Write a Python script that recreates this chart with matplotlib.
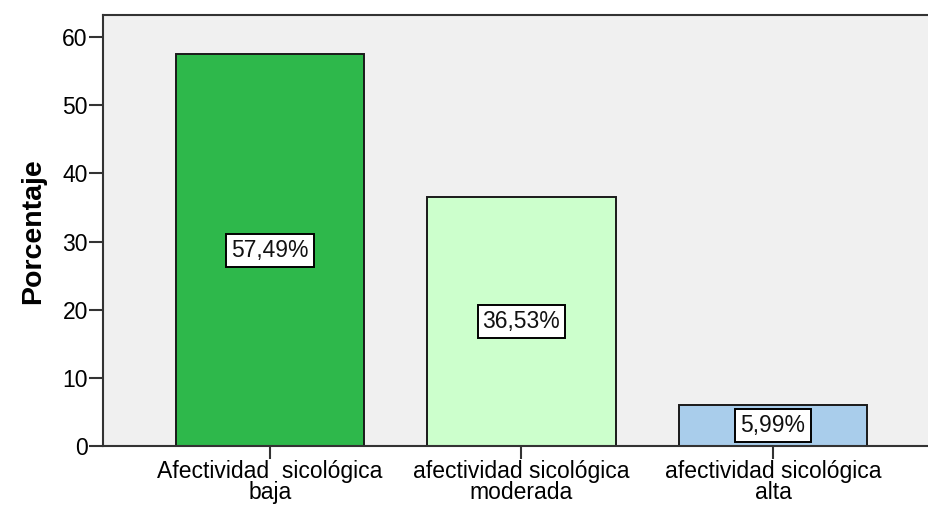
import matplotlib.pyplot as plt

categories = ["Afectividad  sicológica\nbaja", "afectividad sicológica\nmoderada", "afectividad sicológica\nalta"]
values = [57.49, 36.53, 5.99]
labels = ["57,49%", "36,53%", "5,99%"]
colors = ["#2EB84B", "#CCFFCC", "#A9CDEB"]

plt.rcParams["font.family"] = ["Liberation Sans", "DejaVu Sans"]

fig = plt.figure(figsize=(9.29, 5.07), dpi=100)
ax = fig.add_axes([0.111, 0.12, 0.889, 0.85])
ax.set_facecolor("#F0F0F0")

x = range(len(values))
ax.bar(x, values, width=0.75, color=colors, edgecolor="#1A1A1A", linewidth=1.4, zorder=2)
for i, v in enumerate(values):
    ax.text(i, v / 2, labels[i], ha="center", va="center", fontsize=16.5, color="#111111",
            bbox=dict(boxstyle="square,pad=0.22", fc="white", ec="black", lw=1.4), zorder=3)

ax.set_xlim(-0.663, 2.62)
ax.set_ylim(0, 63.2)
ax.set_yticks([0, 10, 20, 30, 40, 50, 60])
ax.set_xticks(list(x))
ax.set_xticklabels(categories, fontsize=16.5, linespacing=0.88)
ax.tick_params(axis="y", labelsize=16.5, length=10, width=1.5, color="#333333", pad=1)
ax.tick_params(axis="x", length=9, width=1.5, color="#333333", pad=1)
ax.set_ylabel("Porcentaje", fontsize=20.5, fontweight="bold", labelpad=12)

for s in ["left", "bottom", "top"]:
    ax.spines[s].set_linewidth(1.5)
    ax.spines[s].set_color("#333333")
ax.spines["right"].set_visible(False)

fig.savefig("out.png", dpi=100)
